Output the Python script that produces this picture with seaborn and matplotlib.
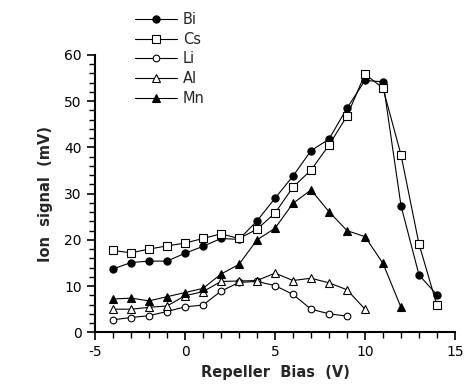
import matplotlib
matplotlib.use("Agg")
import matplotlib.pyplot as plt
import seaborn as sns
from matplotlib.ticker import MultipleLocator

# repeller bias (V)
bias = [-4, -3, -2, -1, 0, 1, 2, 3, 4, 5, 6, 7, 8, 9, 10, 11, 12, 13, 14]

# ion signal (mV)
bi = [13.7, 15.1, 15.4, 15.4, 17.1, 18.6, 20.3, 20.1, 24.1, 29.0, 33.8, 39.3, 41.8, 48.5, 54.5, 54.2, 27.4, 12.4, 8.1]
cs = [17.7, 17.2, 18.0, 18.7, 19.3, 20.3, 21.3, 20.3, 22.3, 25.8, 31.4, 35.1, 40.5, 46.8, 55.9, 52.8, 38.4, 19.1, 5.8]
li = [2.7, 3.2, 3.6, 4.5, 5.5, 5.9, 8.9, 10.8, 11.0, 10.1, 8.2, 5.0, 4.0, 3.5]
al = [5.0, 5.0, 5.4, 5.7, 7.9, 8.8, 11.0, 11.1, 11.2, 12.8, 11.2, 11.7, 10.7, 9.2, 5.0]
mn = [7.2, 7.4, 6.8, 7.7, 8.6, 9.5, 12.6, 14.7, 20.0, 22.5, 27.9, 30.8, 26.1, 22.0, 20.7, 14.9, 5.4]

series = [
    ("Bi", bi, "o", "black", 5.2),
    ("Cs", cs, "s", "white", 5.2),
    ("Li", li, "o", "white", 4.8),
    ("Al", al, "^", "white", 5.2),
    ("Mn", mn, "^", "black", 5.2),
]

sns.set_style("ticks")
plt.rcParams['font.family'] = ['DejaVu Sans']
plt.rcParams['axes.unicode_minus'] = False

fig = plt.figure(figsize=(4.66, 3.88), dpi=100)
ax = fig.add_axes([95 / 466, 1 - 332.3 / 388, 360 / 466, 277.3 / 388])

for name, vals, mk, fc, ms in series:
    sns.lineplot(x=bias[:len(vals)], y=vals, ax=ax, color="black", lw=0.8,
                 marker=mk, markersize=ms, markerfacecolor=fc,
                 markeredgecolor="black", markeredgewidth=0.8, label=name)

ax.set_xlim(-5, 15)
ax.set_ylim(0, 60)
ax.xaxis.set_major_locator(MultipleLocator(5))
ax.xaxis.set_minor_locator(MultipleLocator(1))
ax.yaxis.set_major_locator(MultipleLocator(10))
ax.yaxis.set_minor_locator(MultipleLocator(2))
ax.tick_params(which="major", length=6, width=1.2, labelsize=10, color="black", labelcolor="black")
ax.tick_params(which="minor", length=4, width=1.0, color="black")
for s in ["top", "right"]:
    ax.spines[s].set_visible(False)
for s in ["left", "bottom"]:
    ax.spines[s].set_linewidth(1.5)
    ax.spines[s].set_color("black")

ax.set_xlabel("Repeller  Bias  (V)", fontsize=10.5, fontweight="bold", labelpad=4)
ax.set_ylabel("Ion  signal  (mV)", fontsize=10.5, fontweight="bold", labelpad=8)

ax.legend(loc="upper left", bbox_to_anchor=(135 / 466, 1 - 12 / 388),
          bbox_transform=fig.transFigure, frameon=False, fontsize=10.5,
          handlelength=2.9, handletextpad=0.4, labelspacing=0.32,
          borderpad=0, borderaxespad=0)

fig.savefig("out.png", dpi=100)
